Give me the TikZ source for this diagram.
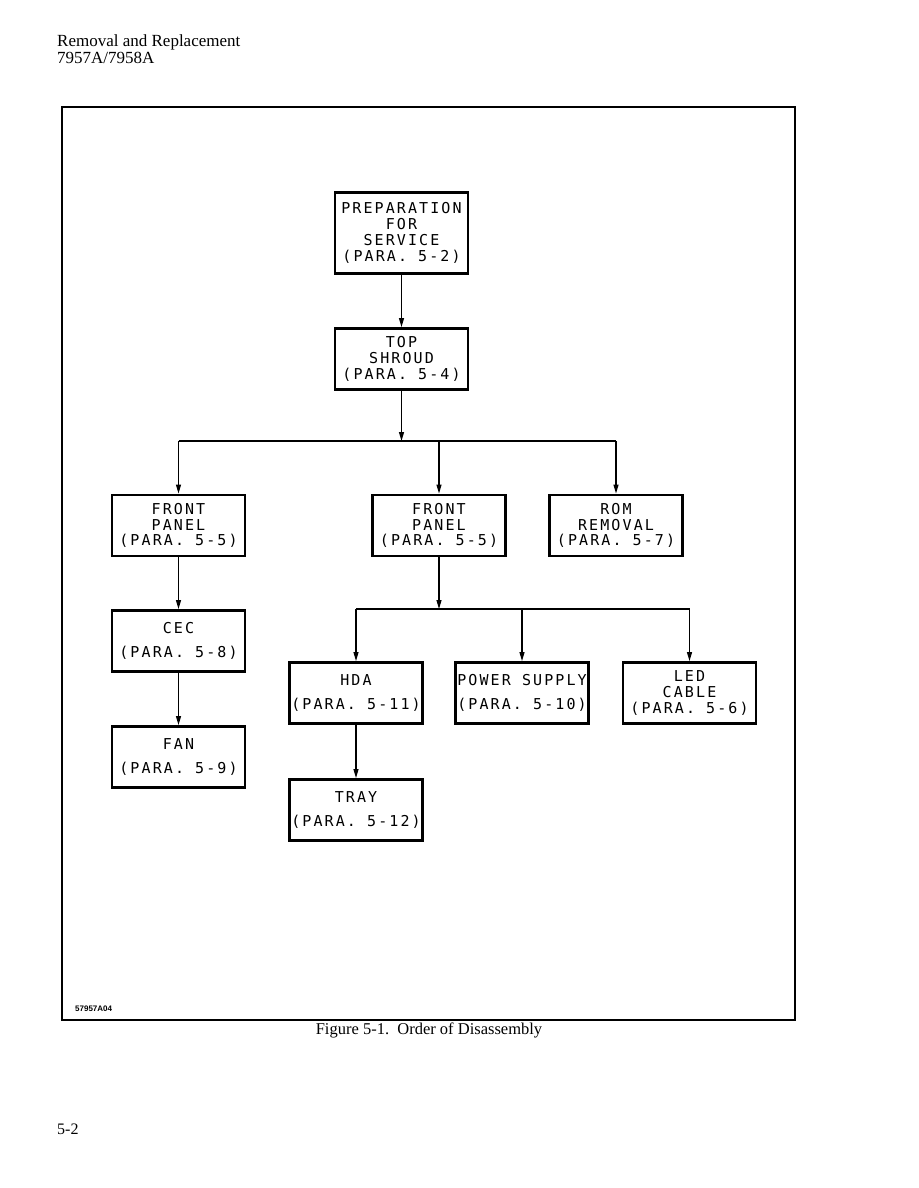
\documentclass[tikz,border=0pt]{standalone}
\usepackage{fontspec}
\setmainfont{Liberation Serif}
\newfontfamily\lr[LetterSpace=14]{DejaVu Sans Mono}
\newfontfamily\tagfont{Liberation Sans}
\usetikzlibrary{arrows.meta,calc}
\begin{document}
\begin{tikzpicture}[x=1pt,y=-1pt,
  box/.style={draw,line width=2.9pt,minimum width=133pt,minimum height=61pt,inner sep=0pt,align=center,
     font=\lr\fontsize{15}{15.8}\selectfont},
  twoline/.style={box,font=\lr\fontsize{15}{23.5}\selectfont},
  conn/.style={line width=1.2pt},
  arr/.style={conn,-{Triangle[length=9pt,width=5pt]}}]
\useasboundingbox (0,0) rectangle (918,1188);
% header
\node[anchor=base west,font=\fontsize{17}{17}\selectfont,inner sep=0pt] (hdr1) at (57,47) {Removal and Replacement};
\node[anchor=base west,font=\fontsize{17}{17}\selectfont,inner sep=0pt] (hdr2) at (57,64) {7957A/7958A};
% frame
\draw[line width=1.3pt] (62,107) rectangle (795,1020);
% boxes
\node[box,minimum height=81pt] (prep) at (401.5,233) {PREPARATION\\FOR\\SERVICE\\(PARA. 5-2)};
\node[box] (top) at (401.5,359) {TOP\\SHROUD\\(PARA. 5-4)};
\node[box] (fp1) at (178.5,525.5) {FRONT\\PANEL\\(PARA. 5-5)};
\node[box] (fp2) at (439,525.5) {FRONT\\PANEL\\(PARA. 5-5)};
\node[box] (rom) at (616,525.5) {ROM\\REMOVAL\\(PARA. 5-7)};
\node[twoline] (cec) at (178.5,641) {CEC\\(PARA. 5-8)};
\node[twoline] (fan) at (178.5,757) {FAN\\(PARA. 5-9)};
\node[twoline] (hda) at (356,693) {HDA\\(PARA. 5-11)};
\node[twoline] (ps) at (522,693) {POWER SUPPLY\\(PARA. 5-10)};
\node[box] (led) at (689.5,693) {LED\\CABLE\\(PARA. 5-6)};
\node[twoline] (tray) at (356,810) {TRAY\\(PARA. 5-12)};
% connectors
\draw[arr] (prep) -- (top);
\coordinate (bus1) at (401.5,441);
\draw[arr] (top) -- (bus1);
\draw[conn] (bus1 -| fp1) -- (bus1 -| rom);
\draw[arr] (bus1 -| fp1) -- (fp1);
\draw[arr] (bus1 -| fp2) -- (fp2);
\draw[arr] (bus1 -| rom) -- (rom);
\draw[arr] (fp1) -- (cec);
\draw[arr] (cec) -- (fan);
\coordinate (bus2) at (439,609);
\draw[arr] (fp2) -- (bus2);
\draw[conn] (bus2 -| hda) -- (bus2 -| led);
\draw[arr] (bus2 -| hda) -- (hda);
\draw[arr] (bus2 -| ps) -- (ps);
\draw[arr] (bus2 -| led) -- (led);
\draw[arr] (hda) -- (tray);
% tag and caption
\node[anchor=west,font=\tagfont\bfseries\fontsize{8}{9}\selectfont,inner sep=0pt] (tag) at (75,1009) {57957A04};
\node[anchor=base,font=\fontsize{16.5}{18}\selectfont,inner sep=0pt] (cap) at (429,1034) {Figure 5-1.\ \ Order of Disassembly};
\node[anchor=base west,font=\fontsize{16}{17}\selectfont,inner sep=0pt] (pg) at (57,1134) {5-2};
\end{tikzpicture}
\end{document}
